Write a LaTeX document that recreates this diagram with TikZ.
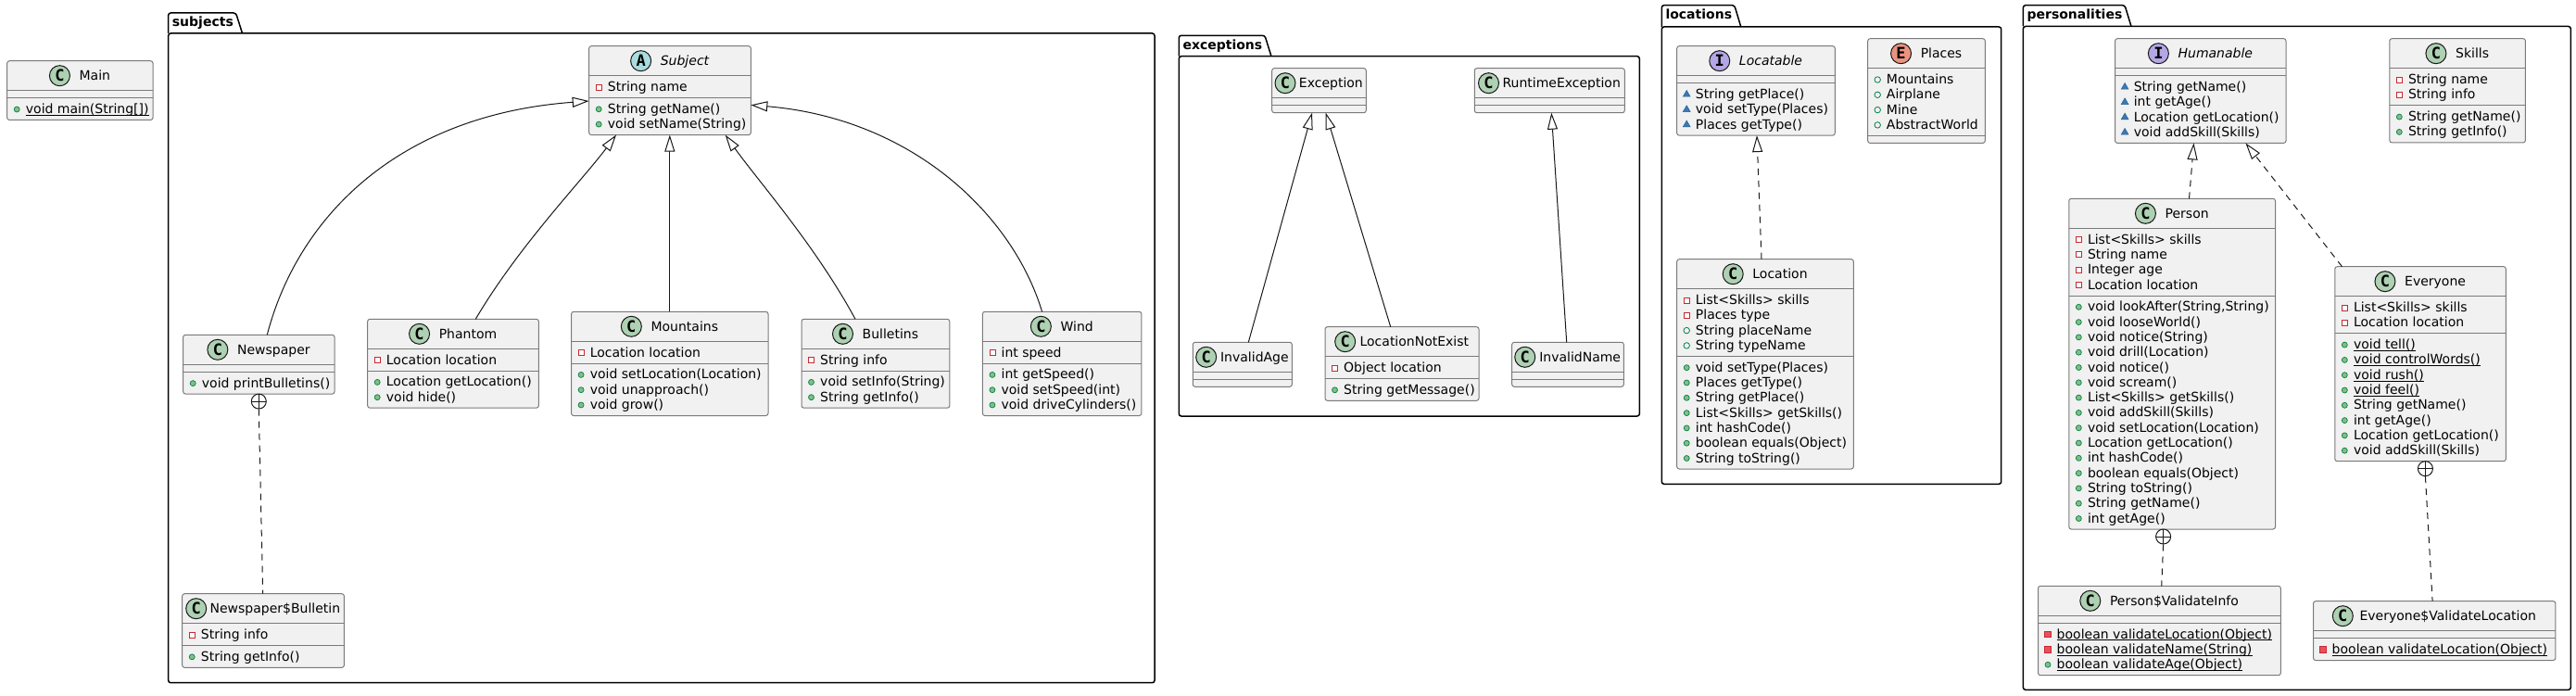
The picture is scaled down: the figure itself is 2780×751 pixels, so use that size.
\documentclass[tikz,border=0pt]{standalone}
\usepackage{fontspec}
\setmainfont{DejaVu Sans}
\setmonofont{DejaVu Sans Mono}
\usetikzlibrary{calc,arrows.meta,shapes.geometric}
\definecolor{boxfill}{HTML}{F1F1F1}
\definecolor{boxline}{HTML}{7A7A7A}
\definecolor{ink}{HTML}{181818}
\definecolor{cC}{HTML}{ADD1B2}
\definecolor{cA}{HTML}{A9DCDF}
\definecolor{cI}{HTML}{B4A7E5}
\definecolor{cE}{HTML}{EB937F}
\definecolor{privred}{HTML}{C82930}
\definecolor{privfill}{HTML}{E8505F}
\definecolor{pubgreen}{HTML}{038048}
\definecolor{pubfill}{HTML}{84BE84}
\definecolor{pkgblue}{HTML}{1963A0}
\definecolor{pkgfill}{HTML}{4177AF}
\tikzset{
  classbox/.style={draw=boxline, fill=boxfill, line width=1pt, rounded corners=2.5pt, inner sep=0pt, outer sep=0pt},
  sepline/.style={draw=boxline, line width=1pt},
  hdr/.style={inner sep=0pt, font=\fontsize{14}{16}\selectfont},
  memtext/.style={inner sep=0pt, font=\fontsize{14}{16}\selectfont},
  icon/.style={circle, draw=ink, line width=1pt, minimum size=22pt, inner sep=0pt, font=\fontsize{17}{17}\selectfont\ttfamily\bfseries},
  mpriv/.style={rectangle, draw=privred, line width=0.8pt, fill=white, minimum size=6pt, inner sep=0pt},
  mprivs/.style={rectangle, draw=privred, line width=0.8pt, fill=privfill, minimum size=6.5pt, inner sep=0pt},
  mpub/.style={circle, draw=pubgreen, line width=0.7pt, fill=pubfill, minimum size=6pt, inner sep=0pt},
  mpubf/.style={circle, draw=pubgreen, line width=0.8pt, fill=none, minimum size=6.5pt, inner sep=0pt},
  mpkg/.style={regular polygon, regular polygon sides=3, draw=pkgblue, line width=0.5pt, fill=pkgfill, minimum size=9pt, inner sep=0pt},
  uline/.style={draw=black, line width=0.9pt},
  inh/.style={draw=ink, line width=1pt, -{Triangle[open, length=18pt, width=11pt, fill=white]}},
  real/.style={inh, dash pattern=on 7pt off 6pt},
  nestl/.style={draw=ink, line width=1pt, dash pattern=on 7pt off 6pt},
  nestc/.style={circle, draw=ink, line width=1pt, fill=white, minimum size=16pt, inner sep=0pt,
    path picture={\draw[ink, line width=1pt] (path picture bounding box.north) -- (path picture bounding box.south)
      (path picture bounding box.west) -- (path picture bounding box.east);}},
  pkgframe/.style={draw=black, line width=1.5pt, rounded corners=2.5pt, inner sep=0pt, outer sep=0pt},
  pkglabel/.style={inner sep=0pt, font=\fontsize{14}{16}\selectfont\bfseries},
  pkgtab/.style={draw=black, line width=1.5pt, rounded corners=2.5pt},
}
% package: id, x, frame top, w, h, tab top, label
\newcommand\upkg[7]{%
  \node[pkgframe, minimum width=#4pt, minimum height=#5pt, anchor=north west] (#1) at (#2,#3) {};
  \coordinate (#1-tt) at (#2,#6);
  \node[pkglabel, anchor=base west] (#1-lab) at (#2+4,#6+15) {#7};
  \draw[pkgtab] (#1.north west) -- (#1-tt) -- ($(#1-lab.east |- #1-tt)+(2.5,0)$) -- ($(#1-lab.east |- #1.north)+(9.5,0)$);
}
% class: id, x, y, w, nattr, nmeth, gap, kind, name
\newcommand\uclass[9]{%
  \pgfmathsetmacro\ucA{#5==0 ? 8 : 16.3*#5+7.5}%
  \pgfmathsetmacro\ucM{#6==0 ? 8 : 16.3*#6+7.5}%
  \expandafter\xdef\csname hA@#1\endcsname{\ucA}%
  \pgfmathsetmacro\ucT{32+\ucA+\ucM}%
  \node[classbox, minimum width=#4pt, minimum height=\ucT pt, anchor=north west] (#1) at (#2,#3) {};
  \draw[sepline] ($(#1.north west)+(0,32)$) -- ($(#1.north east)+(0,32)$);
  \draw[sepline] ($(#1.north west)+(0,32+\ucA)$) -- ($(#1.north east)+(0,32+\ucA)$);
  \pgfmathsetmacro\ucX{#2+#4/2+(22+#7)/2}%
  \node[hdr, anchor=base] (#1-n) at (\ucX,#3+21) {#9};
  \node[icon, fill=c#8] (#1-i) at ($(#1-n.base west)+(-#7-11,-5)$) {#8};
}
% member: id, part (0 attr / 1 meth), index, marker, text
\newcommand\umem[5]{%
  \edef\ucH{\csname hA@#1\endcsname}%
  \pgfmathsetmacro\ucO{32+#2*\ucH+16.8+16.3*(#3-1)}%
  \node[memtext, anchor=base west] (#1-#2-#3) at ($(#1.north west)+(20,\ucO)$) {#5};
  \node[#4] (#1-#2-#3-k) at ($(#1.north west)+(10.5,\ucO-4.5)$) {};
}
\newcommand\umems[5]{%
  \umem{#1}{#2}{#3}{#4}{#5}%
  \draw[uline] ([yshift=-1.8pt]#1-#2-#3.base west) -- ([yshift=-1.8pt]#1-#2-#3.base east);
}
\begin{document}
\begin{tikzpicture}[x=1pt, y=-1pt]
\useasboundingbox (0,0) rectangle (2780,751);
% packages
\upkg{subjects}{181.7}{36}{1064.3}{700.7}{14}{subjects}
\upkg{exceptions}{1272.3}{60.7}{497}{388.3}{38.3}{exceptions}
\upkg{locations}{1793.3}{29}{366.4}{493.3}{5.7}{locations}
\upkg{personalities}{2183.4}{28.5}{590.9}{715.8}{5.7}{personalities}
% classes
\uclass{Main}{7.7}{65.7}{157.3}{0}{1}{10}{C}{Main}
\umems{Main}{1}{1}{mpub}{void main(String[])}

\uclass{Subject}{635.7}{49.7}{174.6}{1}{2}{10}{A}{\itshape Subject}
\umem{Subject}{0}{1}{mpriv}{String name}
\umem{Subject}{1}{1}{mpub}{String getName()}
\umem{Subject}{1}{2}{mpub}{void setName(String)}

\uclass{Newspaper}{197.7}{361.3}{163.3}{0}{1}{10}{C}{Newspaper}
\umem{Newspaper}{1}{1}{mpub}{void printBulletins()}

\uclass{Phantom}{396.7}{344.3}{184.6}{1}{2}{10}{C}{Phantom}
\umem{Phantom}{0}{1}{mpriv}{Location location}
\umem{Phantom}{1}{1}{mpub}{Location getLocation()}
\umem{Phantom}{1}{2}{mpub}{void hide()}

\uclass{Mountains}{616.6}{336.3}{212.4}{1}{3}{10}{C}{Mountains}
\umem{Mountains}{0}{1}{mpriv}{Location location}
\umem{Mountains}{1}{1}{mpub}{void setLocation(Location)}
\umem{Mountains}{1}{2}{mpub}{void unapproach()}
\umem{Mountains}{1}{3}{mpub}{void grow()}

\uclass{Bulletins}{865}{344.3}{159.8}{1}{2}{10}{C}{Bulletins}
\umem{Bulletins}{0}{1}{mpriv}{String info}
\umem{Bulletins}{1}{1}{mpub}{void setInfo(String)}
\umem{Bulletins}{1}{2}{mpub}{String getInfo()}

\uclass{Wind}{1060.4}{336.3}{171.5}{1}{3}{10}{C}{Wind}
\umem{Wind}{0}{1}{mpriv}{int speed}
\umem{Wind}{1}{1}{mpub}{int getSpeed()}
\umem{Wind}{1}{2}{mpub}{void setSpeed(int)}
\umem{Wind}{1}{3}{mpub}{void driveCylinders()}

\uclass{NB}{196.7}{640.7}{174.7}{1}{1}{3.7}{C}{Newspaper\$Bulletin}
\umem{NB}{0}{1}{mpriv}{String info}
\umem{NB}{1}{1}{mpub}{String getInfo()}

\uclass{Exception}{1372.7}{73.7}{101.6}{0}{0}{3.7}{C}{Exception}
\uclass{RuntimeException}{1591.3}{73.7}{162}{0}{0}{3.8}{C}{RuntimeException}
\uclass{InvalidAge}{1287.3}{369.3}{107}{0}{0}{4.2}{C}{InvalidAge}
\uclass{LNE}{1430}{352.7}{166}{1}{1}{4.7}{C}{LocationNotExist}
\umem{LNE}{0}{1}{mpriv}{Object location}
\umem{LNE}{1}{1}{mpub}{String getMessage()}
\uclass{InvalidName}{1631.7}{369.3}{120.6}{0}{0}{4.3}{C}{InvalidName}

\uclass{Locatable}{1809.7}{49.7}{170.6}{0}{3}{10}{I}{\itshape Locatable}
\umem{Locatable}{1}{1}{mpkg}{String getPlace()}
\umem{Locatable}{1}{2}{mpkg}{void setType(Places)}
\umem{Locatable}{1}{3}{mpkg}{Places getType()}

\uclass{Places}{2015.7}{41.7}{126.6}{4}{0}{10}{E}{Places}
\umem{Places}{0}{1}{mpubf}{Mountains}
\umem{Places}{0}{2}{mpubf}{Airplane}
\umem{Places}{0}{3}{mpubf}{Mine}
\umem{Places}{0}{4}{mpubf}{AbstractWorld}

\uclass{Location}{1809.7}{279.7}{190.6}{4}{7}{10}{C}{Location}
\umem{Location}{0}{1}{mpriv}{List<Skills> skills}
\umem{Location}{0}{2}{mpriv}{Places type}
\umem{Location}{0}{3}{mpubf}{String placeName}
\umem{Location}{0}{4}{mpubf}{String typeName}
\umem{Location}{1}{1}{mpub}{void setType(Places)}
\umem{Location}{1}{2}{mpub}{Places getType()}
\umem{Location}{1}{3}{mpub}{String getPlace()}
\umem{Location}{1}{4}{mpub}{List<Skills> getSkills()}
\umem{Location}{1}{5}{mpub}{int hashCode()}
\umem{Location}{1}{6}{mpub}{boolean equals(Object)}
\umem{Location}{1}{7}{mpub}{String toString()}

\uclass{Humanable}{2282.6}{41.7}{184.4}{0}{4}{10}{I}{\itshape Humanable}
\umem{Humanable}{1}{1}{mpkg}{String getName()}
\umem{Humanable}{1}{2}{mpkg}{int getAge()}
\umem{Humanable}{1}{3}{mpkg}{Location getLocation()}
\umem{Humanable}{1}{4}{mpkg}{void addSkill(Skills)}

\uclass{Skills}{2578.8}{41.7}{146.6}{2}{2}{10}{C}{Skills}
\umem{Skills}{0}{1}{mpriv}{String name}
\umem{Skills}{0}{2}{mpriv}{String info}
\umem{Skills}{1}{1}{mpub}{String getName()}
\umem{Skills}{1}{2}{mpub}{String getInfo()}

\uclass{Person}{2232.8}{214.3}{222.7}{4}{15}{10}{C}{Person}
\umem{Person}{0}{1}{mpriv}{List<Skills> skills}
\umem{Person}{0}{2}{mpriv}{String name}
\umem{Person}{0}{3}{mpriv}{Integer age}
\umem{Person}{0}{4}{mpriv}{Location location}
\umem{Person}{1}{1}{mpub}{void lookAfter(String,String)}
\umem{Person}{1}{2}{mpub}{void looseWorld()}
\umem{Person}{1}{3}{mpub}{void notice(String)}
\umem{Person}{1}{4}{mpub}{void drill(Location)}
\umem{Person}{1}{5}{mpub}{void notice()}
\umem{Person}{1}{6}{mpub}{void scream()}
\umem{Person}{1}{7}{mpub}{List<Skills> getSkills()}
\umem{Person}{1}{8}{mpub}{void addSkill(Skills)}
\umem{Person}{1}{9}{mpub}{void setLocation(Location)}
\umem{Person}{1}{10}{mpub}{Location getLocation()}
\umem{Person}{1}{11}{mpub}{int hashCode()}
\umem{Person}{1}{12}{mpub}{boolean equals(Object)}
\umem{Person}{1}{13}{mpub}{String toString()}
\umem{Person}{1}{14}{mpub}{String getName()}
\umem{Person}{1}{15}{mpub}{int getAge()}

\uclass{Everyone}{2519.8}{287.7}{184.5}{2}{8}{10}{C}{Everyone}
\umem{Everyone}{0}{1}{mpriv}{List<Skills> skills}
\umem{Everyone}{0}{2}{mpriv}{Location location}
\umems{Everyone}{1}{1}{mpub}{void tell()}
\umems{Everyone}{1}{2}{mpub}{void controlWords()}
\umems{Everyone}{1}{3}{mpub}{void rush()}
\umems{Everyone}{1}{4}{mpub}{void feel()}
\umem{Everyone}{1}{5}{mpub}{String getName()}
\umem{Everyone}{1}{6}{mpub}{int getAge()}
\umem{Everyone}{1}{7}{mpub}{Location getLocation()}
\umem{Everyone}{1}{8}{mpub}{void addSkill(Skills)}

\uclass{PVI}{2199.5}{632.3}{261.8}{0}{3}{10}{C}{Person\$ValidateInfo}
\umems{PVI}{1}{1}{mprivs}{boolean validateLocation(Object)}
\umems{PVI}{1}{2}{mprivs}{boolean validateName(String)}
\umems{PVI}{1}{3}{mpub}{boolean validateAge(Object)}

\uclass{EVL}{2496.5}{648.7}{261.4}{0}{1}{7}{C}{Everyone\$ValidateLocation}
\umems{EVL}{1}{1}{mprivs}{boolean validateLocation(Object)}

% generalisations in subjects
\draw[inh] ($(Newspaper.north west)+(90.6,0)$) .. controls (322,232) and (432,124) .. ($(Subject.north west)+(0,59.3)$);
\draw[inh] ($(Phantom.north west)+(116.6,0)$) .. controls (560,265) and (628,195) .. ($(Subject.south west)+(29.3,0)$);
\draw[inh] (Mountains.north) -- (Mountains.north |- Subject.south);
\draw[inh] ($(Bulletins.north west)+(58,0)$) .. controls (880,265) and (818,195) .. ($(Subject.south west)+(147,0)$);
\draw[inh] ($(Wind.north west)+(64.2,0)$) .. controls (1093,232) and (985,128) .. ($(Subject.north east)+(0,63.6)$);
% exceptions
\draw[inh] ($(InvalidAge.north west)+(60,0)$) -- ($(Exception.south west)+(43.3,0)$);
\draw[inh] ($(LNE.north west)+(70.7,0)$) -- ($(Exception.south west)+(58,0)$);
\draw[inh] ($(InvalidName.north west)+(59,0)$) -- ($(RuntimeException.south west)+(83,0)$);
% realisations
\draw[real] ($(Location.north west)+(91.3,0)$) -- ($(Locatable.south west)+(86.3,0)$);
\draw[real] ($(Person.north west)+(129.7,0)$) -- ($(Humanable.south west)+(84.9,0)$);
\draw[real] ($(Everyone.north west)+(7.7,0)$) -- ($(Humanable.south west)+(140.8,0)$);
% nested classes
\node[nestc] (NPc) at ($(Newspaper.south west)+(81.6,8)$) {};
\draw[nestl] (NPc.south) -- ($(NB.north west)+(87,0)$);
\node[nestc] (PEc) at ($(Person.south west)+(101.8,8)$) {};
\draw[nestl] (PEc.south) -- ($(PVI.north west)+(133.2,0)$);
\node[nestc] (EVc) at ($(Everyone.south west)+(97.6,8)$) {};
\draw[nestl] (EVc.south) -- ($(EVL.north west)+(128.6,0)$);
\end{tikzpicture}
\end{document}
